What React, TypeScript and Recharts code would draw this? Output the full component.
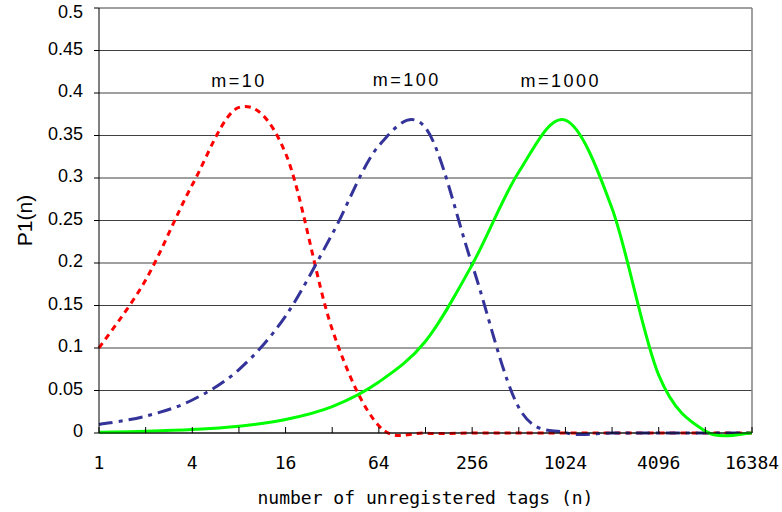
import {
    CartesianGrid,
    Line,
    LineChart,
    ReferenceDot,
    ReferenceLine,
    XAxis,
    YAxis,
} from "recharts";

// exponent k -> n = 2^k
const exponents = [0, 1, 2, 3, 4, 5, 6, 7, 8, 9, 10, 11, 12, 13, 14];

const m10 = [0.1, 0.18, 0.292, 0.383, 0.329, 0.122, 0.0084, 0, 0, 0, 0, 0, 0, 0, 0];
const m100 = [0.01, 0.0198, 0.0388, 0.0746, 0.1376, 0.234, 0.338, 0.359, 0.198, 0.03, 0.0004, 0, 0, 0, 0];
const m1000 = [0.001, 0.002, 0.004, 0.008, 0.0158, 0.031, 0.06, 0.108, 0.198, 0.307, 0.368, 0.264, 0.068, 0.0022, 0];

const yTicks = [0, 0.05, 0.1, 0.15, 0.2, 0.25, 0.3, 0.35, 0.4, 0.45, 0.5];

const curveNames = ["m=10", "m=100", "m=1000"];
const curveLabelK = [3, 6.6, 9.9];
const curveLabelY = [0.415, 0.416, 0.414];

const data = exponents.map((k, i) => ({
    k,
    m10: m10[i],
    m100: m100[i],
    m1000: m1000[i],
}));

const sans = "'Liberation Sans', Arial, sans-serif";
const narrow = "'DejaVu Sans Mono', monospace";

// Excel-like smoothing (Catmull-Rom through every point)
function excelSmooth(context: any) {
    let pts: number[][] = [];
    return {
        areaStart() {},
        areaEnd() {},
        lineStart() {
            pts = [];
        },
        lineEnd() {
            if (!pts.length) return;
            context.moveTo(pts[0][0], pts[0][1]);
            for (let i = 0; i < pts.length - 1; i++) {
                const p0 = pts[i - 1] || pts[i];
                const p1 = pts[i];
                const p2 = pts[i + 1];
                const p3 = pts[i + 2] || p2;
                context.bezierCurveTo(
                    p1[0] + (p2[0] - p0[0]) / 6,
                    p1[1] + (p2[1] - p0[1]) / 6,
                    p2[0] - (p3[0] - p1[0]) / 6,
                    p2[1] - (p3[1] - p1[1]) / 6,
                    p2[0],
                    p2[1]
                );
            }
        },
        point(x: number, y: number) {
            pts.push([+x, +y]);
        },
    };
}

function XTick(props: any) {
    const { x, y, payload } = props;
    const k = payload.value;
    return (
        <g>
            <line x1={x} y1={y - 6} x2={x} y2={y} stroke="#000" />
            {k % 2 === 0 && (
                <text
                    x={x}
                    y={y + 36}
                    textAnchor="middle"
                    fontFamily={narrow}
                    fontSize={18}
                    fill="#000"
                >
                    {Math.pow(2, k)}
                </text>
            )}
        </g>
    );
}

function YTick(props: any) {
    const { x, y, payload } = props;
    const v = Number(Number(payload.value).toFixed(2));
    return (
        <text
            x={x}
            y={Math.max(y - 2, 12)}
            textAnchor="end"
            dominantBaseline="central"
            fontFamily={sans}
            fontSize={18}
            fill="#000"
        >
            {String(v)}
        </text>
    );
}

export default function App() {
    return (
        <div style={{ position: "absolute", left: 0, top: 0, background: "#fff" }}>
            <LineChart
                width={782}
                height={512}
                data={data}
                margin={{ top: 8, right: 30, bottom: 0, left: 0 }}
            >
                <CartesianGrid vertical={false} stroke="#404040" strokeWidth={1} />

                <XAxis
                    dataKey="k"
                    type="number"
                    domain={[0, 14]}
                    ticks={exponents}
                    interval={0}
                    height={79}
                    tickLine={false}
                    tickSize={0}
                    tickMargin={0}
                    tick={<XTick />}
                    stroke="#000"
                    label={{
                        value: "number of unregistered tags (n)",
                        position: "insideBottom",
                        offset: 8,
                        fontFamily: narrow,
                        fontSize: 18,
                        fill: "#000",
                    }}
                />

                <YAxis
                    domain={[0, 0.5]}
                    ticks={yTicks}
                    interval={0}
                    width={99}
                    tickSize={5}
                    tickMargin={11}
                    stroke="#000"
                    tick={<YTick />}
                    label={{
                        content: ({ viewBox }: any) => {
                            const cx = viewBox.x + 24;
                            const cy = viewBox.y + viewBox.height / 2;
                            return (
                                <text
                                    x={cx}
                                    y={cy}
                                    transform={`rotate(-90, ${cx}, ${cy})`}
                                    textAnchor="middle"
                                    dominantBaseline="central"
                                    fontFamily={sans}
                                    fontSize={21}
                                    fill="#000"
                                >
                                    P1(n)
                                </text>
                            );
                        },
                    }}
                />

                <ReferenceLine x={14} stroke="#808080" strokeWidth={1.5} />

                <Line
                    dataKey="m10"
                    type={excelSmooth as any}
                    stroke="#ff0000"
                    strokeWidth={3}
                    strokeDasharray="6 5"
                    dot={false}
                    activeDot={false}
                    isAnimationActive={false}
                />
                <Line
                    dataKey="m100"
                    type={excelSmooth as any}
                    stroke="#333399"
                    strokeWidth={3}
                    strokeDasharray="14 6 4 6"
                    dot={false}
                    activeDot={false}
                    isAnimationActive={false}
                />
                <Line
                    dataKey="m1000"
                    type={excelSmooth as any}
                    stroke="#00ff00"
                    strokeWidth={3}
                    dot={false}
                    activeDot={false}
                    isAnimationActive={false}
                />

                {curveNames.map((name, i) => (
                    <ReferenceDot
                        key={name}
                        x={curveLabelK[i]}
                        y={curveLabelY[i]}
                        r={0}
                        fill="none"
                        stroke="none"
                        label={{
                            value: name,
                            position: "center",
                            fontFamily: sans,
                            fontSize: 18,
                            letterSpacing: 2.5,
                            fill: "#000",
                        }}
                    />
                ))}
            </LineChart>
        </div>
    );
}
